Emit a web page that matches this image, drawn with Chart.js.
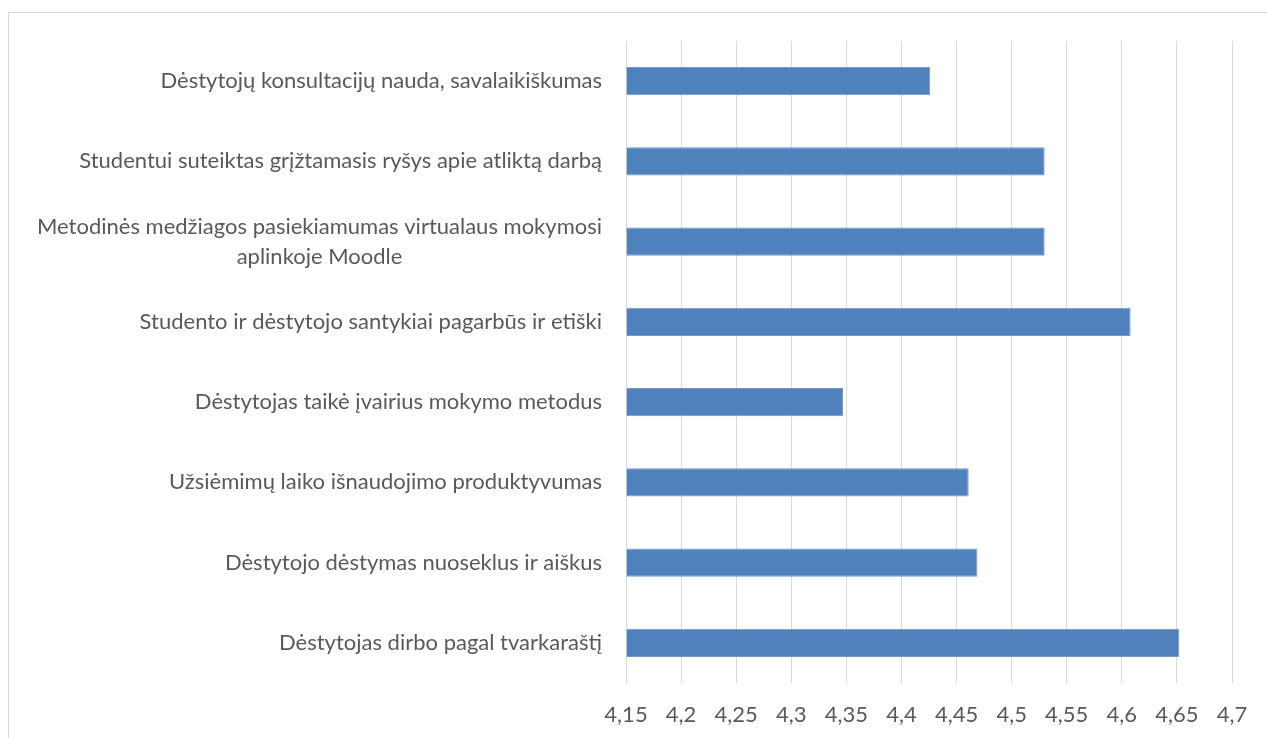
<!DOCTYPE html>
<html>
<head>
<meta charset="utf-8">
<script src="https://cdn.jsdelivr.net/npm/chart.js@4.4.1/dist/chart.umd.min.js"></script>
<style>
  html, body { margin: 0; padding: 0; background: #fff; }
  #wrap { position: relative; width: 1267px; height: 738px; overflow: hidden; }
  #frame { position: absolute; left: 8px; top: 12px; right: -2px; bottom: -2px; border: 1px solid #d9d9d9; }
  canvas { position: absolute; left: 0; top: 0; }
</style>
</head>
<body>
<div id="wrap">
  <div id="frame"></div>
  <canvas id="chart" width="1267" height="738"></canvas>
</div>
<script>
// categories top to bottom, as in the picture
const categories = [
  "Dėstytojų konsultacijų nauda, savalaikiškumas",
  "Studentui suteiktas grįžtamasis ryšys apie atliktą darbą",
  ["Metodinės medžiagos pasiekiamumas virtualaus mokymosi", "aplinkoje Moodle"],
  "Studento ir dėstytojo santykiai pagarbūs ir etiški",
  "Dėstytojas taikė įvairius mokymo metodus",
  "Užsiėmimų laiko išnaudojimo produktyvumas",
  "Dėstytojo dėstymas nuoseklus ir aiškus",
  "Dėstytojas dirbo pagal tvarkaraštį"
];
const values = [4.426, 4.53, 4.53, 4.608, 4.347, 4.461, 4.469, 4.652];
const xTicks = [4.15, 4.2, 4.25, 4.3, 4.35, 4.4, 4.45, 4.5, 4.55, 4.6, 4.65, 4.7];

const FONT = "Lato";
const textColor = "#595959";

// y labels drawn by hand so the two-line label is centred like in Excel
const yLabels = {
  id: "yLabels",
  afterDraw(chart) {
    const ys = chart.scales.y;
    const ctx = chart.ctx;
    const lineH = 30;
    const right = chart.chartArea.left - 24;
    ctx.save();
    ctx.font = "22px " + FONT;
    ctx.fillStyle = textColor;
    ctx.textAlign = "center";
    ctx.textBaseline = "middle";
    categories.forEach((lab, i) => {
      const lines = Array.isArray(lab) ? lab : [lab];
      const w = Math.max(...lines.map(l => ctx.measureText(l).width));
      const y0 = ys.getPixelForTick(i) - (lines.length - 1) * lineH / 2;
      lines.forEach((l, j) => ctx.fillText(l, right - w / 2, y0 + j * lineH));
    });
    ctx.restore();
  }
};

function draw() {
  const ctx = document.getElementById("chart").getContext("2d");
  new Chart(ctx, {
    type: "bar",
    data: {
      labels: categories,
      datasets: [{
        data: values,
        base: xTicks[0],
        backgroundColor: "#4f81bd",
        borderColor: "#7399cb",
        borderWidth: 1,
        categoryPercentage: 0.35,
        barPercentage: 1
      }]
    },
    options: {
      indexAxis: "y",
      responsive: false,
      animation: false,
      layout: { padding: { top: 41, right: 35, bottom: 0, left: 0 } },
      plugins: {
        legend: { display: false },
        tooltip: { enabled: false }
      },
      scales: {
        x: {
          type: "linear",
          min: xTicks[0],
          max: xTicks[xTicks.length - 1],
          afterBuildTicks: s => { s.ticks = xTicks.map(v => ({ value: v })); },
          afterFit: s => { s.height = 55; },
          grid: { color: "#d9d9d9", lineWidth: 1, drawTicks: false },
          border: { display: false },
          ticks: {
            padding: 19,
            color: textColor,
            autoSkip: false,
            maxRotation: 0,
            font: { family: FONT, size: 22 },
            callback: v => String(v).replace(".", ",")
          }
        },
        y: {
          afterFit: s => { s.width = 626; },
          grid: { display: false },
          border: { display: false },
          ticks: { display: false }
        }
      }
    },
    plugins: [yLabels]
  });
}

document.fonts.load("22px " + FONT).then(draw, draw);
</script>
</body>
</html>
